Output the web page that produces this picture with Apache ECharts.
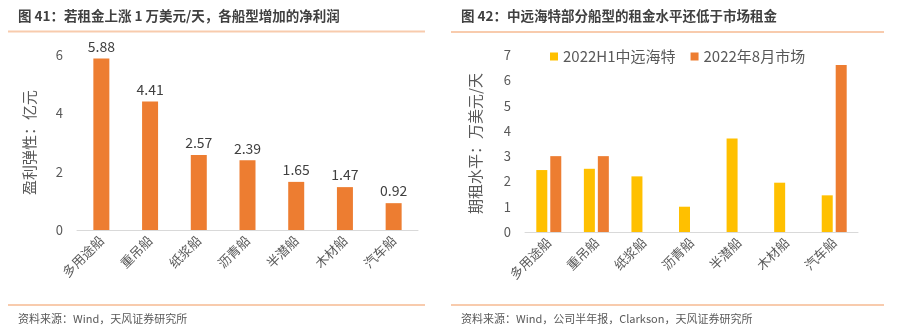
<!DOCTYPE html>
<html><head><meta charset="utf-8">
<script src="https://cdn.jsdelivr.net/npm/echarts@6/dist/echarts.min.js"></script>
<style>html,body{margin:0;padding:0;background:#fff}#c{width:900px;height:334px}</style>
</head><body><div id="c"></div>
<script>
const categories = ['多用途船','重吊船','纸浆船','沥青船','半潜船','木材船','汽车船'];
const profitValues = [5.88, 4.41, 2.57, 2.39, 1.65, 1.47, 0.92];
const cosco2022H1 = [2.45, 2.5, 2.2, 1.0, 3.7, 1.95, 1.45];
const market2022Aug = [3.0, 3.0, null, null, null, null, 6.6];
const leftTicks = [0, 2, 4, 6];
const rightTicks = [0, 1, 2, 3, 4, 5, 6, 7];

const FONT = '"Noto Sans CJK SC", "Noto Sans", sans-serif';
const chart = echarts.init(document.getElementById('c'));
const axisLabel = {color: '#595959', fontSize: 13, fontFamily: FONT};
const catAxis = (gi) => ({
  type: 'category', gridIndex: gi, data: categories,
  axisLine: {lineStyle: {color: '#d9d9d9'}}, axisTick: {show: false},
  axisLabel: {color: '#595959', fontSize: 13, fontFamily: FONT, rotate: 45, margin: 8, interval: 0}
});
chart.setOption({
  animation: false,
  textStyle: {fontFamily: FONT},
  grid: [
    {left: 77, right: 482, top: 55, bottom: 104},
    {left: 525, right: 42, top: 55, bottom: 102}
  ],
  legend: {
    data: ['2022H1中远海特', '2022年8月市场'], left: 545, top: 44,
    itemWidth: 8, itemHeight: 8, itemGap: 15, icon: 'rect',
    textStyle: {color: '#595959', fontSize: 15, fontFamily: FONT}
  },
  xAxis: [catAxis(0), catAxis(1)],
  yAxis: [
    {type: 'value', gridIndex: 0, min: leftTicks[0], max: leftTicks[leftTicks.length-1], interval: 2,
     splitLine: {show: false}, axisLine: {show: false}, axisTick: {show: false}, axisLabel: {...axisLabel, margin: 14},
     name: '盈利弹性：亿元', nameLocation: 'middle', nameGap: 40, nameRotate: 90,
     nameTextStyle: {color: '#595959', fontSize: 15, fontFamily: FONT}},
    {type: 'value', gridIndex: 1, min: rightTicks[0], max: rightTicks[rightTicks.length-1], interval: 1,
     splitLine: {show: false}, axisLine: {show: false}, axisTick: {show: false}, axisLabel: {...axisLabel, margin: 14},
     name: '期租水平：万美元/天', nameLocation: 'middle', nameGap: 42, nameRotate: 90,
     nameTextStyle: {color: '#595959', fontSize: 15, fontFamily: FONT}}
  ],
  series: [
    {type: 'bar', xAxisIndex: 0, yAxisIndex: 0, data: profitValues, barWidth: 16,
     itemStyle: {color: '#ED7D31'},
     label: {show: true, position: 'top', color: '#404040', fontSize: 14, fontFamily: FONT, distance: 5}},
    {name: '2022H1中远海特', type: 'bar', xAxisIndex: 1, yAxisIndex: 1, data: cosco2022H1, barWidth: 11, barGap: '27%',
     itemStyle: {color: '#FFC000'}},
    {name: '2022年8月市场', type: 'bar', xAxisIndex: 1, yAxisIndex: 1, data: market2022Aug, barWidth: 11, barGap: '27%',
     itemStyle: {color: '#ED7D31'}}
  ],
  graphic: [
    {type: 'text', left: 18, top: 9, style: {text: '图 41：若租金上涨 1 万美元/天，各船型增加的净利润', fill: '#404040', font: 'bold 13.5px ' + FONT}},
    {type: 'text', left: 461, top: 9, style: {text: '图 42：中远海特部分船型的租金水平还低于市场租金', fill: '#404040', font: 'bold 13.5px ' + FONT}},
    {type: 'line', shape: {x1: 8, y1: 31.5, x2: 425, y2: 31.5}, style: {stroke: '#F8CBAD', lineWidth: 2}},
    {type: 'line', shape: {x1: 451, y1: 32, x2: 884, y2: 32}, style: {stroke: '#F8CBAD', lineWidth: 2}},
    {type: 'line', shape: {x1: 8, y1: 305, x2: 425, y2: 305}, style: {stroke: '#F8CBAD', lineWidth: 2}},
    {type: 'line', shape: {x1: 451, y1: 305, x2: 884, y2: 305}, style: {stroke: '#F8CBAD', lineWidth: 2}},
    {type: 'text', left: 18, top: 313, style: {text: '资料来源：Wind，天风证券研究所', fill: '#595959', font: '11px ' + FONT}},
    {type: 'text', left: 461, top: 313, style: {text: '资料来源：Wind，公司半年报，Clarkson，天风证券研究所', fill: '#595959', font: '11px ' + FONT}}
  ]
});
</script></body></html>
